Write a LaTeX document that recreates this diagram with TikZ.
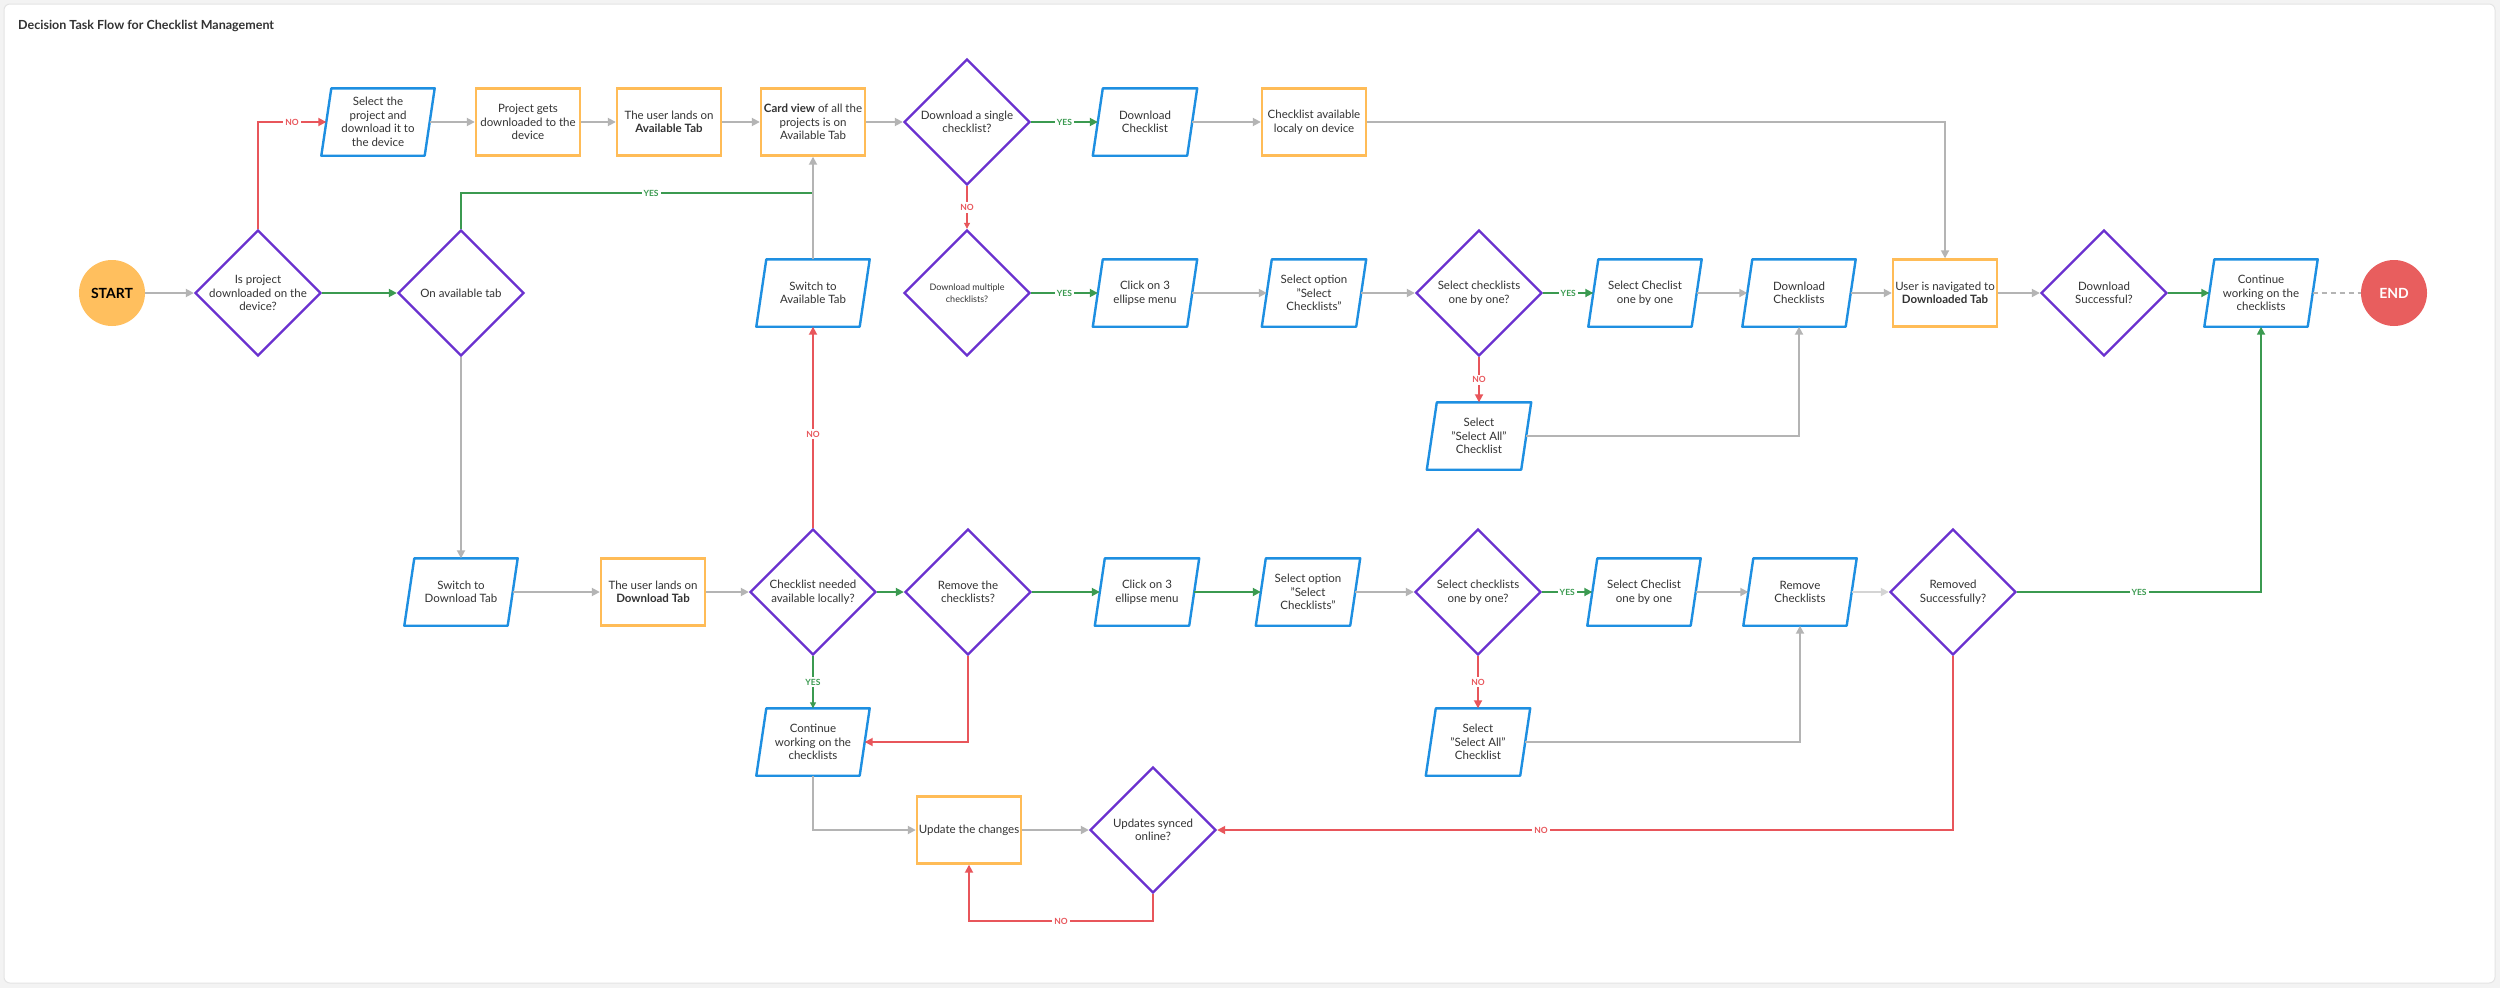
\documentclass[tikz,border=0pt]{standalone}
\usepackage{fontspec}
\setmainfont{Lato}
\usetikzlibrary{shapes.geometric,arrows.meta,calc}
\definecolor{cblue}{HTML}{1E8FE1}
\definecolor{corange}{HTML}{FFBC57}
\definecolor{cpurple}{HTML}{6A31CF}
\definecolor{cgreen}{HTML}{3B9A50}
\definecolor{cred}{HTML}{E8565B}
\definecolor{cgray}{HTML}{B4B4B4}
\definecolor{clgray}{HTML}{D4D4D4}
\definecolor{ctxt}{HTML}{333333}
\definecolor{cstart}{HTML}{FFBF5E}
\definecolor{cend}{HTML}{E85E5E}
\definecolor{cbg}{HTML}{F3F3F3}
\definecolor{cpanel}{HTML}{E4E4E4}
\newcommand{\flbl}{\fontsize{11.5}{13.5}\selectfont}
\tikzset{
  ptext/.style={rectangle, minimum height=67pt, inner sep=0pt, align=center, font=\flbl, text=ctxt},
  pline/.style={draw=cblue, line width=2.4pt, line join=round},
  obox/.style={rectangle, draw=corange, line width=2.4pt, minimum width=104pt, minimum height=67pt, inner sep=0pt, align=center, font=\flbl, text=ctxt},
  dia/.style={diamond, aspect=1, draw=cpurple, line width=2.4pt, minimum width=126pt, minimum height=126pt, inner sep=0pt},
  dtext/.style={align=center, font=\flbl, text=ctxt, inner sep=0pt},
  tip/.style={-{Triangle[length=8pt,width=8pt]}},
  thintip/.style={-{Triangle[length=6pt,width=6pt]}},
  garr/.style={draw=cgray, line width=1.8pt, tip},
  lgarr/.style={draw=clgray, line width=1.8pt, tip},
  gline/.style={draw=cgray, line width=1.8pt},
  grarr/.style={draw=cgreen, line width=1.8pt, tip},
  grline/.style={draw=cgreen, line width=1.8pt},
  grthin/.style={draw=cgreen, line width=1.1pt, thintip},
  rarr/.style={draw=cred, line width=1.8pt, tip},
  rthin/.style={draw=cred, line width=1.1pt, thintip},
  lab/.style={fill=white, inner sep=2pt, font=\fontsize{8.5}{9}\selectfont\bfseries},
}
\newcommand{\fpara}[5]{%
  \node[ptext, minimum width=#4pt] (#1) at (#2,#3) {#5};
  \draw[pline] ([xshift=5pt]#1.north west) -- ([xshift=5pt]#1.north east) -- ([xshift=-5pt]#1.south east) -- ([xshift=-5pt]#1.south west) -- cycle;}
\newcommand{\fdia}[4]{%
  \node[dia] (#1) at (#2,#3) {};
  \node[dtext] (#1t) at (#1) {#4};}
\begin{document}
\begin{tikzpicture}[x=1pt, y=-1pt]
\useasboundingbox (0,0) rectangle (2500,988);
\fill[cbg] (0,0) rectangle (2500,988);
\draw[fill=white, draw=cpanel, line width=1pt, rounded corners=6pt] (4,4) rectangle (2495,983);
\node[anchor=west, font=\fontsize{12.5}{15}\selectfont\bfseries, text=ctxt, inner sep=0pt] (title) at (18,26) {Decision Task Flow for Checklist Management};

% ---- row 1
\fpara{sel}{378}{122}{103}{Select the\\project and\\download it to\\the device}
\node[obox] (proj) at (528,122) {Project gets\\downloaded to the\\device};
\node[obox] (lands1) at (669,122) {The user lands on\\\textbf{Available Tab}};
\node[obox] (card) at (813,122) {\textbf{Card view} of all the\\projects is on\\Available Tab};
\fdia{dsingle}{967}{122}{Download a single\\checklist?}
\fpara{dlc}{1145}{122}{94}{Download\\Checklist}
\node[obox] (avail) at (1314,122) {Checklist available\\localy on device};

% ---- row 2
\node[circle, fill=cstart, minimum size=66pt, inner sep=0pt, font=\fontsize{14}{16}\selectfont\bfseries, text=black] (start) at (112,293) {START};
\fdia{q1}{258}{293}{Is project\\downloaded on the\\device?}
\fdia{onavail}{461}{293}{On available tab}
\fpara{swavail}{813}{293}{103}{Switch to\\Available Tab}
\node[dia] (dmulti) at (967,293) {};
\node[dtext, font=\fontsize{9}{11.5}\selectfont] (dmultit) at (dmulti) {Download multiple\\checklists?};
\fpara{click1}{1145}{293}{94}{Click on 3\\ellipse menu}
\fpara{selopt1}{1314}{293}{94}{Select option\\"Select\\Checklists"}
\fdia{one1}{1479}{293}{Select checklists\\one by one?}
\fpara{selone1}{1645}{293}{103}{Select Checlist\\one by one}
\fpara{dlcs}{1799}{293}{103}{Download\\Checklists}
\node[obox] (navtab) at (1945,293) {User is navigated to\\\textbf{Downloaded Tab}};
\fdia{dsucc}{2104}{293}{Download\\Successful?}
\fpara{cont1}{2261}{293}{103}{Continue\\working on the\\checklists}
\node[circle, fill=cend, minimum size=66pt, inner sep=0pt, font=\fontsize{14}{16}\selectfont\bfseries, text=white] (end) at (2394,293) {END};

\fpara{selall1}{1479}{436}{94}{Select\\"Select All"\\Checklist}

% ---- row 3
\fpara{swdl}{461}{592}{103}{Switch to\\Download Tab}
\node[obox] (lands2) at (653,592) {The user lands on\\\textbf{Download Tab}};
\fdia{needed}{813}{592}{Checklist needed\\available locally?}
\fdia{remove}{968}{592}{Remove the\\checklists?}
\fpara{click2}{1147}{592}{94}{Click on 3\\ellipse menu}
\fpara{selopt2}{1308}{592}{94}{Select option\\"Select\\Checklists"}
\fdia{one2}{1478}{592}{Select checklists\\one by one?}
\fpara{selone2}{1644}{592}{103}{Select Checlist\\one by one}
\fpara{remcs}{1800}{592}{103}{Remove\\Checklists}
\fdia{remsucc}{1953}{592}{Removed\\Successfully?}

\fpara{cont2}{813}{742}{103}{Continue\\working on the\\checklists}
\fpara{selall2}{1478}{742}{94}{Select\\"Select All"\\Checklist}

% ---- row 4
\node[obox] (update) at (969,830) {Update the changes};
\fdia{synced}{1153}{830}{Updates synced\\online?}

\coordinate (jyes) at (813,193);

% ---- connectors, top row
\draw[garr] (sel) -- (proj);
\draw[garr] (proj) -- (lands1);
\draw[garr] (lands1) -- (card);
\draw[garr] (card) -- (dsingle);
\draw[grarr] (dsingle) -- node[lab, text=cgreen] (ydsingle) {YES} (dlc);
\draw[garr] (dlc) -- (avail);
\draw[garr] (avail.east) -| (navtab.north);
\draw[rthin] (dsingle.south) -- node[lab, text=cred] (ndsingle) {NO} (dmulti.north);

% ---- row 2
\draw[garr] (start) -- (q1);
\draw[grarr] (q1) -- (onavail);
\draw[rarr] (q1.north) |- node[lab, text=cred, pos=0.75] (nq1) {NO} (sel.west);
\draw[grline] (onavail.north) |- node[lab, text=cgreen, pos=0.77] (yonavail) {YES} (jyes);
\draw[garr] (swavail.north) -- (card.south);
\draw[grarr] (dmulti) -- node[lab, text=cgreen] (ydmulti) {YES} (click1);
\draw[garr] (click1) -- (selopt1);
\draw[garr] (selopt1) -- (one1);
\draw[grarr] (one1) -- node[lab, text=cgreen] (yone1) {YES} (selone1);
\draw[garr] (selone1) -- (dlcs);
\draw[garr] (dlcs) -- (navtab);
\draw[garr] (navtab) -- (dsucc);
\draw[grarr] (dsucc) -- (cont1);
\draw[cgray, line width=1.8pt, dash pattern=on 5pt off 4pt] (cont1) -- (end);
\draw[rarr] (one1.south) -- node[lab, text=cred] (none1) {NO} (selall1.north);
\draw[garr] (selall1.east) -| (dlcs.south);

% ---- row 3
\draw[garr] (onavail.south) -- (swdl.north);
\draw[garr] (swdl) -- (lands2);
\draw[garr] (lands2) -- (needed);
\draw[grarr] (needed) -- (remove);
\draw[grarr] (remove) -- (click2);
\draw[grarr] (click2) -- (selopt2);
\draw[garr] (selopt2) -- (one2);
\draw[grarr] (one2) -- node[lab, text=cgreen] (yone2) {YES} (selone2);
\draw[garr] (selone2) -- (remcs);
\draw[lgarr] (remcs) -- (remsucc);
\draw[rarr] (one2.south) -- node[lab, text=cred] (none2) {NO} (selall2.north);
\draw[garr] (selall2.east) -| (remcs.south);
\draw[rarr] (needed.north) -- node[lab, text=cred, pos=0.465] (nneeded) {NO} (swavail.south);
\draw[grthin] (needed.south) -- node[lab, text=cgreen] (yneeded) {YES} (cont2.north);
\draw[rarr] (remove.south) |- (cont2.east);
\draw[grarr] (remsucc.east) -| node[lab, text=cgreen, pos=0.25] (yremsucc) {YES} (cont1.south);
\draw[rarr] (remsucc.south) |- node[lab, text=cred, pos=0.78] (nremsucc) {NO} (synced.east);

% ---- row 4
\draw[garr] (cont2.south) |- (update.west);
\draw[garr] (update) -- (synced);
\draw[rarr] (synced.south) -- ++(0,27) -| node[lab, text=cred, pos=0.25] (nsynced) {NO} (update.south);
\end{tikzpicture}
\end{document}
